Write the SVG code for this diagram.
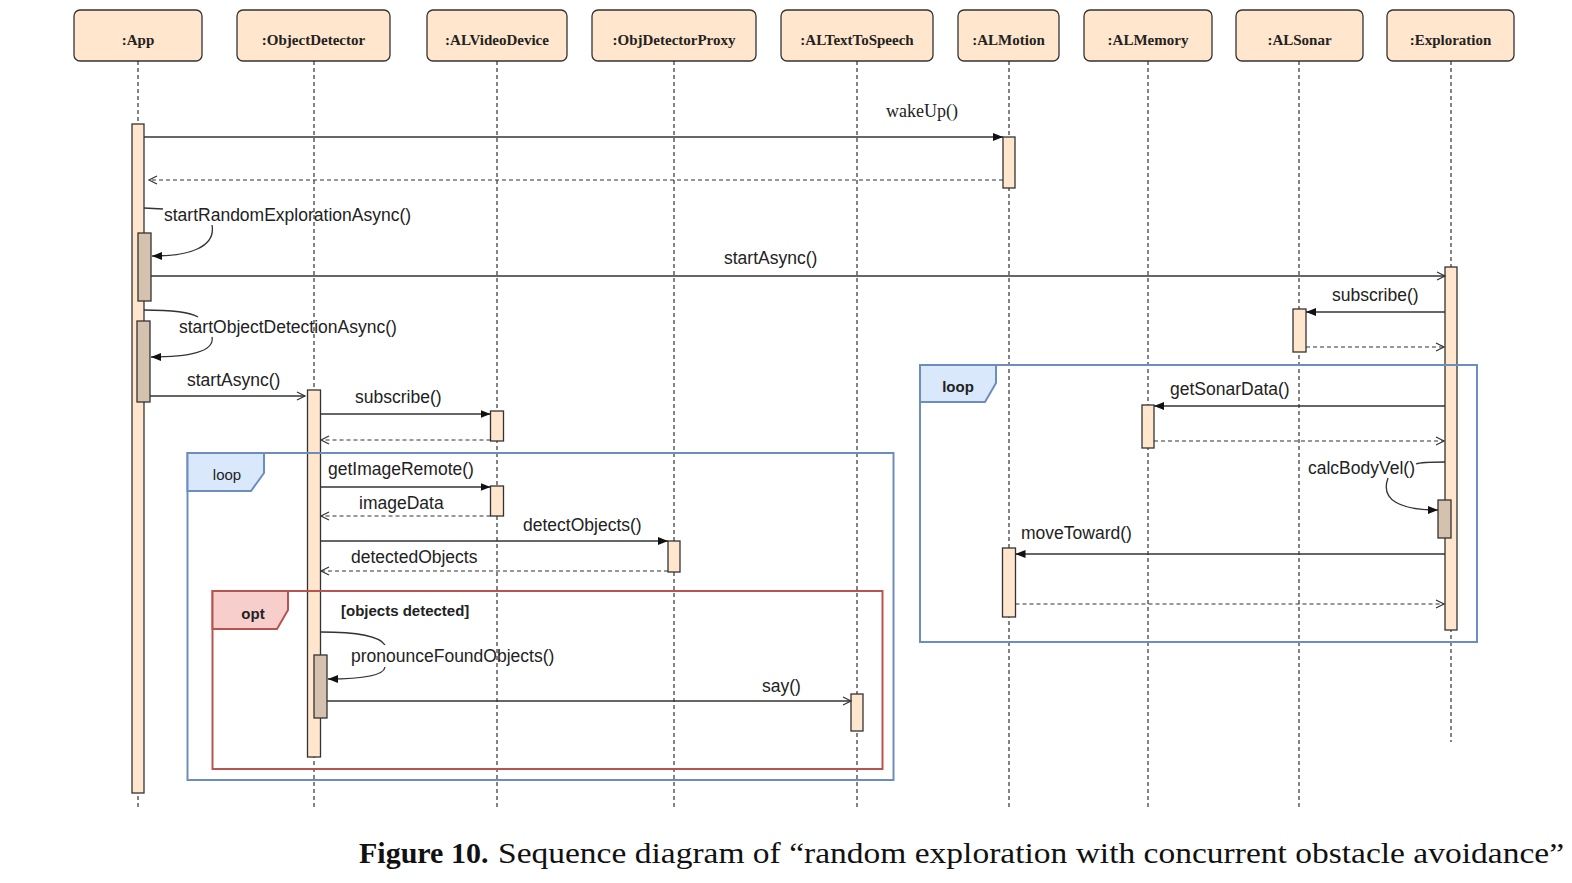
<svg xmlns="http://www.w3.org/2000/svg" width="1572" height="883" viewBox="0 0 1572 883">
<style>
.hdr{fill:#ffe6cc;stroke:#333;stroke-width:1.3}
.ht{font-family:"Liberation Serif",serif;font-weight:bold;font-size:15px;fill:#222;text-anchor:middle}
.life{stroke:#333;stroke-width:1.2;stroke-dasharray:4 3;fill:none}
.act{fill:#ffe6cc;stroke:#333;stroke-width:1.3}
.nact{fill:#d4c2ae;stroke:#333;stroke-width:1.3}
.msg{stroke:#333;stroke-width:1.3;fill:none}
.ret{stroke:#333;stroke-width:1.2;fill:none;stroke-dasharray:4 3}
.lbl{font-family:"Liberation Sans",Arial,sans-serif;font-size:17.5px;fill:#222}
.loopf{fill:none;stroke:#6c8ebf;stroke-width:2}
.loopt{fill:#dae8fc;stroke:#6c8ebf;stroke-width:2}
.optf{fill:none;stroke:#b85450;stroke-width:2}
.optt{fill:#f8cecc;stroke:#b85450;stroke-width:2}
.ft{font-family:"Liberation Sans",Arial,sans-serif;font-size:15px;fill:#222}
.cap{font-family:"Liberation Serif",serif;font-size:30px;fill:#111}
</style>
<defs>
<marker id="fill" markerWidth="11" markerHeight="9" refX="10" refY="4" orient="auto" markerUnits="userSpaceOnUse"><path d="M0,0 L10,4 L0,8 z" fill="#111"/></marker>
<marker id="open" markerWidth="11" markerHeight="11" refX="9" refY="5" orient="auto" markerUnits="userSpaceOnUse"><path d="M1,1 L9,5 L1,9" fill="none" stroke="#333" stroke-width="1.2"/></marker>
</defs>
<rect width="1572" height="883" fill="#fff"/>

<g id="lifelines">
<line class="life" x1="138" y1="61" x2="138" y2="807"/>
<line class="life" x1="314" y1="61" x2="314" y2="807"/>
<line class="life" x1="497" y1="61" x2="497" y2="807"/>
<line class="life" x1="674" y1="61" x2="674" y2="807"/>
<line class="life" x1="857" y1="61" x2="857" y2="807"/>
<line class="life" x1="1009" y1="61" x2="1009" y2="807"/>
<line class="life" x1="1148" y1="61" x2="1148" y2="807"/>
<line class="life" x1="1299" y1="61" x2="1299" y2="807"/>
<line class="life" x1="1451" y1="61" x2="1451" y2="742"/>
</g>

<g id="App"><rect class="hdr" x="74" y="10" width="128" height="51" rx="6"/><text class="ht" x="138" y="45">:App</text></g>
<g id="ObjectDetector"><rect class="hdr" x="237" y="10" width="153" height="51" rx="6"/><text class="ht" x="313.5" y="45">:ObjectDetector</text></g>
<g id="ALVideoDevice"><rect class="hdr" x="427" y="10" width="140" height="51" rx="6"/><text class="ht" x="497" y="45">:ALVideoDevice</text></g>
<g id="ObjDetectorProxy"><rect class="hdr" x="592" y="10" width="164" height="51" rx="6"/><text class="ht" x="674" y="45">:ObjDetectorProxy</text></g>
<g id="ALTextToSpeech"><rect class="hdr" x="781" y="10" width="152" height="51" rx="6"/><text class="ht" x="857" y="45">:ALTextToSpeech</text></g>
<g id="ALMotion"><rect class="hdr" x="958" y="10" width="101" height="51" rx="6"/><text class="ht" x="1008.5" y="45">:ALMotion</text></g>
<g id="ALMemory"><rect class="hdr" x="1084" y="10" width="128" height="51" rx="6"/><text class="ht" x="1148" y="45">:ALMemory</text></g>
<g id="ALSonar"><rect class="hdr" x="1236" y="10" width="127" height="51" rx="6"/><text class="ht" x="1299.5" y="45">:ALSonar</text></g>
<g id="Exploration"><rect class="hdr" x="1387" y="10" width="127" height="51" rx="6"/><text class="ht" x="1450.5" y="45">:Exploration</text></g>

<g id="activations">
<rect class="act" x="132" y="124" width="12" height="669"/>
<rect class="nact" x="138" y="233" width="13" height="68"/>
<rect class="nact" x="137" y="321" width="13" height="81"/>
<rect class="act" x="307.5" y="390" width="13" height="367"/>
<rect class="nact" x="314" y="655" width="13" height="63"/>
<rect class="act" x="490.5" y="411" width="13" height="30"/>
<rect class="act" x="490.5" y="486" width="13" height="30"/>
<rect class="act" x="668" y="541" width="12" height="31"/>
<rect class="act" x="851" y="694" width="12" height="37"/>
<rect class="act" x="1003" y="137" width="12" height="51"/>
<rect class="act" x="1002.5" y="548" width="13" height="69"/>
<rect class="act" x="1142" y="405" width="12" height="43"/>
<rect class="act" x="1293" y="309" width="13" height="43"/>
<rect class="act" x="1445" y="267" width="12" height="363"/>
<rect class="nact" x="1438" y="500" width="13" height="38"/>
</g>

<g id="frames">
<rect class="loopf" x="187.5" y="453" width="706" height="327"/>
<path class="loopt" d="M187.5,453 L264,453 L264,473 L251,491 L187.5,491 z"/>
<text class="ft" x="227" y="480" text-anchor="middle">loop</text>
<rect class="optf" x="212.5" y="591" width="670" height="178"/>
<path class="optt" d="M212.5,591 L288,591 L288,610 L277,629 L212.5,629 z"/>
<text class="ft" x="253" y="619" text-anchor="middle" font-weight="bold">opt</text>
<text class="ft" x="341" y="616" font-weight="bold">[objects detected]</text>
<rect class="loopf" x="920" y="365" width="557" height="277"/>
<path class="loopt" d="M920,365 L996,365 L996,383 L985,402 L920,402 z"/>
<text class="ft" x="958" y="392" text-anchor="middle" font-weight="bold">loop</text>
</g>

<g id="connectors">
<line class="msg" x1="144" y1="137" x2="1003" y2="137" marker-end="url(#fill)"/>
<line class="ret" x1="1003" y1="180" x2="149" y2="180" marker-end="url(#open)"/>
<path class="msg" d="M144,208 L163,209"/>
<path class="msg" d="M212,225 C216,247 190,256 152,256" marker-end="url(#fill)"/>
<line class="msg" x1="151" y1="276" x2="1445" y2="276" marker-end="url(#open)"/>
<path class="msg" d="M144,310 C172,310 190,312 198,317"/>
<path class="msg" d="M212,337 C215,352 188,357 151,357" marker-end="url(#fill)"/>
<line class="msg" x1="150" y1="396" x2="305" y2="396" marker-end="url(#open)"/>
<line class="msg" x1="320.5" y1="414" x2="490.5" y2="414" marker-end="url(#fill)"/>
<line class="ret" x1="490.5" y1="440" x2="321" y2="440" marker-end="url(#open)"/>
<line class="msg" x1="320.5" y1="487" x2="490.5" y2="487" marker-end="url(#fill)"/>
<line class="ret" x1="490.5" y1="516" x2="321" y2="516" marker-end="url(#open)"/>
<line class="msg" x1="320.5" y1="541" x2="668" y2="541" marker-end="url(#fill)"/>
<line class="ret" x1="668" y1="571" x2="321" y2="571" marker-end="url(#open)"/>
<path class="msg" d="M320.5,632 C360,632 380,637 385,645"/>
<path class="msg" d="M385,667 C384,676 362,679 328,679" marker-end="url(#fill)"/>
<line class="msg" x1="327" y1="701" x2="851" y2="701" marker-end="url(#open)"/>
<line class="msg" x1="1445" y1="312" x2="1306" y2="312" marker-end="url(#fill)"/>
<line class="ret" x1="1306" y1="347" x2="1444" y2="347" marker-end="url(#open)"/>
<line class="msg" x1="1445" y1="406" x2="1154" y2="406" marker-end="url(#fill)"/>
<line class="ret" x1="1154" y1="441" x2="1444" y2="441" marker-end="url(#open)"/>
<path class="msg" d="M1445,462 C1430,462 1421,462 1416,464"/>
<path class="msg" d="M1388,478 C1380,500 1400,510 1438,510" marker-end="url(#fill)"/>
<line class="msg" x1="1445" y1="554" x2="1015.5" y2="554" marker-end="url(#fill)"/>
<line class="ret" x1="1015.5" y1="604" x2="1444" y2="604" marker-end="url(#open)"/>
</g>

<g id="labels">
<text x="886" y="117" font-family="Liberation Serif,serif" font-size="18" fill="#222">wakeUp()</text>
<text class="lbl" x="164" y="221">startRandomExplorationAsync()</text>
<text class="lbl" x="724" y="264">startAsync()</text>
<text class="lbl" x="1332" y="301">subscribe()</text>
<text class="lbl" x="179" y="333">startObjectDetectionAsync()</text>
<text class="lbl" x="187" y="386">startAsync()</text>
<text class="lbl" x="355" y="403">subscribe()</text>
<text class="lbl" x="1170" y="395">getSonarData()</text>
<text class="lbl" x="328" y="475">getImageRemote()</text>
<text class="lbl" x="1308" y="474">calcBodyVel()</text>
<text class="lbl" x="359" y="509">imageData</text>
<text class="lbl" x="523" y="531">detectObjects()</text>
<text class="lbl" x="1021" y="539">moveToward()</text>
<text class="lbl" x="351" y="563">detectedObjects</text>
<text class="lbl" x="351" y="662">pronounceFoundObjects()</text>
<text class="lbl" x="762" y="692">say()</text>
</g>

<g id="caption">
<text class="cap" x="359" y="863" font-weight="bold">Figure 10.</text>
<text class="cap" x="498" y="863" textLength="1066" lengthAdjust="spacingAndGlyphs">Sequence diagram of “random exploration with concurrent obstacle avoidance”</text>
</g>
</svg>
